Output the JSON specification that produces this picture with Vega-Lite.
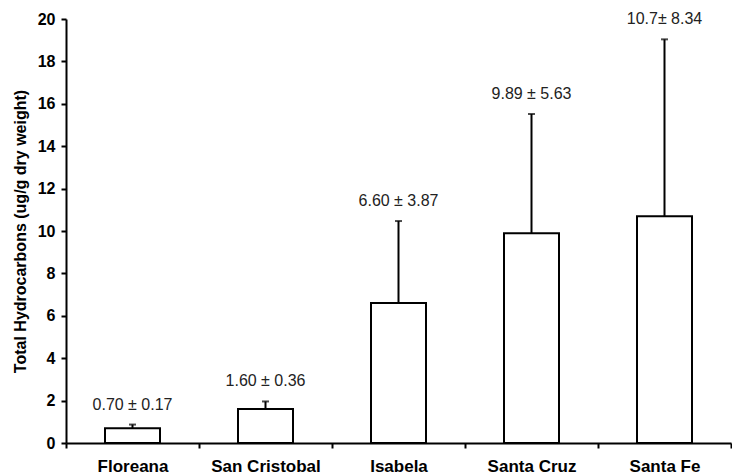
{
  "$schema": "https://vega.github.io/schema/vega-lite/v6.json",
  "width": 665,
  "height": 424,
  "autosize": {"type": "none"},
  "padding": {"left": 66, "top": 19, "right": 1, "bottom": 33},
  "background": "white",
  "config": {
    "font": "Liberation Sans",
    "view": {"stroke": null}
  },
  "data": {
    "values": [
      {"island": "Floreana", "mean": 0.70, "sd": 0.17, "upper": 0.87, "label": "0.70 ± 0.17"},
      {"island": "San Cristobal", "mean": 1.60, "sd": 0.36, "upper": 1.96, "label": "1.60 ± 0.36"},
      {"island": "Isabela", "mean": 6.60, "sd": 3.87, "upper": 10.47, "label": "6.60 ± 3.87"},
      {"island": "Santa Cruz", "mean": 9.89, "sd": 5.63, "upper": 15.52, "label": "9.89 ± 5.63"},
      {"island": "Santa Fe", "mean": 10.7, "sd": 8.34, "upper": 19.04, "label": "10.7± 8.34"}
    ]
  },
  "encoding": {
    "x": {
      "field": "island",
      "type": "nominal",
      "sort": null,
      "scale": {"paddingInner": 0, "paddingOuter": 0},
      "axis": {
        "title": null,
        "labelAngle": 0,
        "labelFont": "Liberation Sans",
        "labelFontWeight": "bold",
        "labelFontSize": 17,
        "labelColor": "black",
        "labelPadding": 10,
        "tickBand": "extent",
        "tickColor": "black",
        "tickSize": 5,
        "tickWidth": 2,
        "domainColor": "black",
        "domainWidth": 2
      }
    }
  },
  "layer": [
    {
      "mark": {"type": "rule", "color": "black", "strokeWidth": 2},
      "encoding": {
        "y": {"field": "mean", "type": "quantitative"},
        "y2": {"field": "upper"}
      }
    },
    {
      "mark": {"type": "bar", "fill": "white", "stroke": "black", "strokeWidth": 2, "size": 55},
      "encoding": {
        "y": {
          "field": "mean",
          "type": "quantitative",
          "scale": {"domain": [0, 20], "nice": false},
          "axis": {
            "title": "Total Hydrocarbons (ug/g dry weight)",
            "titleFont": "Liberation Sans",
            "titleFontWeight": "bold",
            "titleFontSize": 16,
            "titleColor": "black",
            "titlePadding": 9,
            "values": [0, 2, 4, 6, 8, 10, 12, 14, 16, 18, 20],
            "grid": false,
            "labelFont": "Liberation Sans",
            "labelFontWeight": "bold",
            "labelFontSize": 16,
            "labelColor": "black",
            "labelPadding": 6,
            "tickColor": "black",
            "tickSize": 5,
            "tickWidth": 2,
            "domainColor": "black",
            "domainWidth": 2
          }
        }
      }
    },
    {
      "mark": {"type": "tick", "color": "black", "size": 7, "thickness": 2},
      "encoding": {
        "y": {"field": "upper", "type": "quantitative"}
      }
    },
    {
      "mark": {"type": "text", "fontSize": 16, "color": "#222222", "baseline": "middle", "dy": -20},
      "encoding": {
        "y": {"field": "upper", "type": "quantitative"},
        "text": {"field": "label"}
      }
    }
  ]
}
